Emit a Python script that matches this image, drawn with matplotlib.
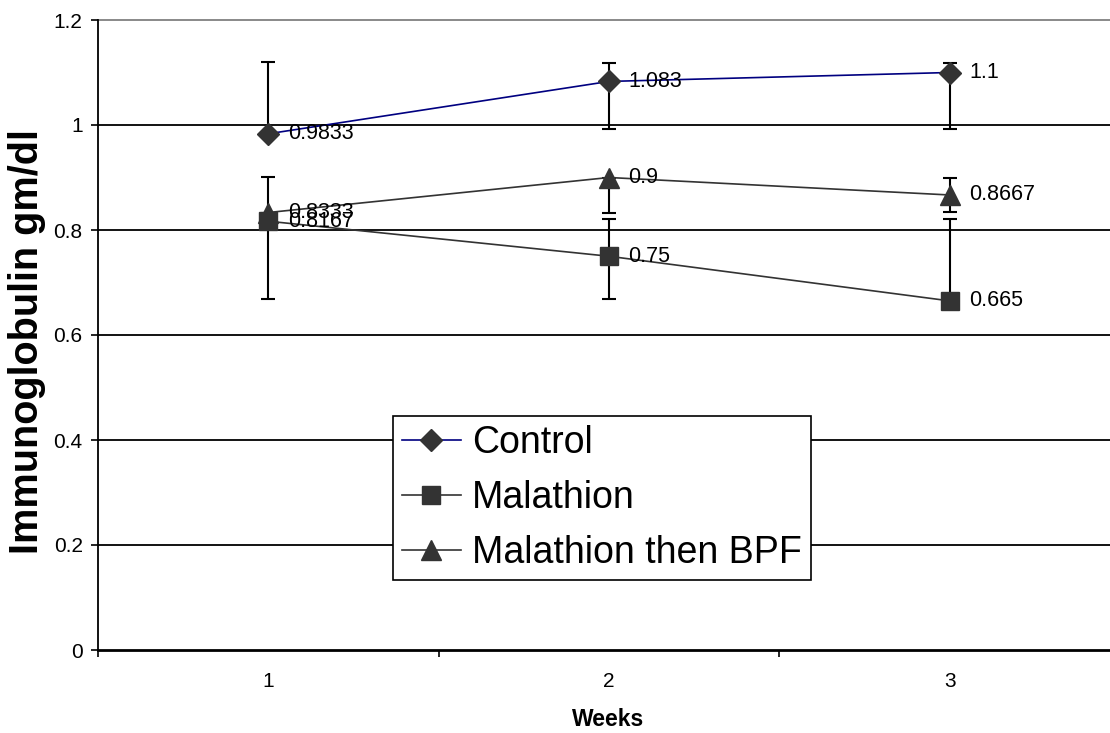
import matplotlib
matplotlib.use("Agg")
import matplotlib.pyplot as plt
import numpy as np

plt.rcParams['font.family'] = ['Liberation Sans', 'DejaVu Sans']

weeks = [1, 2, 3]
week_labels = ["1", "2", "3"]
control = [0.9833, 1.083, 1.1]
malathion = [0.8167, 0.75, 0.665]
mal_bpf = [0.8333, 0.9, 0.8667]

control_err_lo = [0.0, 0.091, 0.108]
control_err_hi = [0.137, 0.036, 0.018]
malathion_err_lo = [0.148, 0.082, 0.0]
malathion_err_hi = [0.0, 0.07, 0.155]
mal_bpf_err_lo = [0.0, 0.067, 0.033]
mal_bpf_err_hi = [0.067, 0.0, 0.033]

control_labels = ["0.9833", "1.083", "1.1"]
malathion_labels = ["0.8167", "0.75", "0.665"]
mal_bpf_labels = ["0.8333", "0.9", "0.8667"]

yticks = [0, 0.2, 0.4, 0.6, 0.8, 1.0, 1.2]
ytick_labels = ["0", "0.2", "0.4", "0.6", "0.8", "1", "1.2"]

W, H = 1110, 733
fig = plt.figure(figsize=(W / 100, H / 100), dpi=100)
ax = fig.add_axes([98 / W, 83 / H, (1120 - 98) / W, 630 / H])

ax.set_xlim(0.5, 3.5)
ax.set_ylim(0, 1.2)

# gridlines
for yv in yticks[1:-1]:
    ax.axhline(yv, color='black', lw=1.3, zorder=1)
ax.axhline(1.2, color='#808080', lw=1.3, zorder=1, clip_on=False)

mcol = '#333333'
series = [
    ("Control", control, control_err_lo, control_err_hi, 'D', '#000080', 11, control_labels),
    ("Malathion", malathion, malathion_err_lo, malathion_err_hi, 's', '#333333', 13, malathion_labels),
    ("Malathion then BPF", mal_bpf, mal_bpf_err_lo, mal_bpf_err_hi, '^', '#333333', 14, mal_bpf_labels),
]

handles = []
for name, vals, elo, ehi, mk, lc, ms, labs in series:
    ax.errorbar(weeks, vals, yerr=[elo, ehi], fmt='none', ecolor='black',
                elinewidth=1.5, capsize=5, capthick=1.5, zorder=2)
    h, = ax.plot(weeks, vals, color=lc, lw=1.2, marker=mk, markersize=ms,
                 markerfacecolor=mcol, markeredgecolor=mcol, zorder=3, label=name)
    handles.append(h)
    for x, v, t in zip(weeks, vals, labs):
        ax.annotate(t, (x, v), xytext=(14, 0), textcoords='offset points',
                    ha='left', va='center', fontsize=15.5, color='black', zorder=4)

ax.set_yticks(yticks)
ax.set_yticklabels(ytick_labels, fontsize=15)
ax.set_xticks([0.5, 1.5, 2.5, 3.5])
ax.set_xticklabels([])
ax.set_xticks(weeks, minor=True)
ax.set_xticklabels(week_labels, minor=True, fontsize=15)
ax.tick_params(axis='x', which='minor', length=0, pad=16)
ax.tick_params(axis='x', which='major', length=5, width=1.2, direction='out')
ax.tick_params(axis='y', length=5, width=1.2, direction='out', pad=6)

for s in ['top', 'right']:
    ax.spines[s].set_visible(False)
ax.spines['left'].set_linewidth(1.3)
ax.spines['bottom'].set_linewidth(2.0)

fig.text(27 / W, 1 - 342 / H, "Immunoglobulin gm/dl", rotation=90, fontsize=28.5,
         fontweight='bold', ha='center', va='center')
fig.text(608 / W, 1 - 720 / H, "Weeks", fontsize=16.5, fontweight='bold', ha='center', va='center')

leg = ax.legend(handles=handles, loc='lower left',
                bbox_to_anchor=((393 - 98) / 1022, (650 - 580) / 630),
                fontsize=27, frameon=True, fancybox=False, shadow=False,
                borderpad=0.25, handlelength=1.55, handletextpad=0.3,
                labelspacing=0.5, borderaxespad=0)
leg.get_frame().set_edgecolor('black')
leg.get_frame().set_linewidth(1.2)
leg.get_frame().set_facecolor('white')
leg.get_frame().set_alpha(1)
leg.set_zorder(10)

fig.savefig("out.png", dpi=100)
